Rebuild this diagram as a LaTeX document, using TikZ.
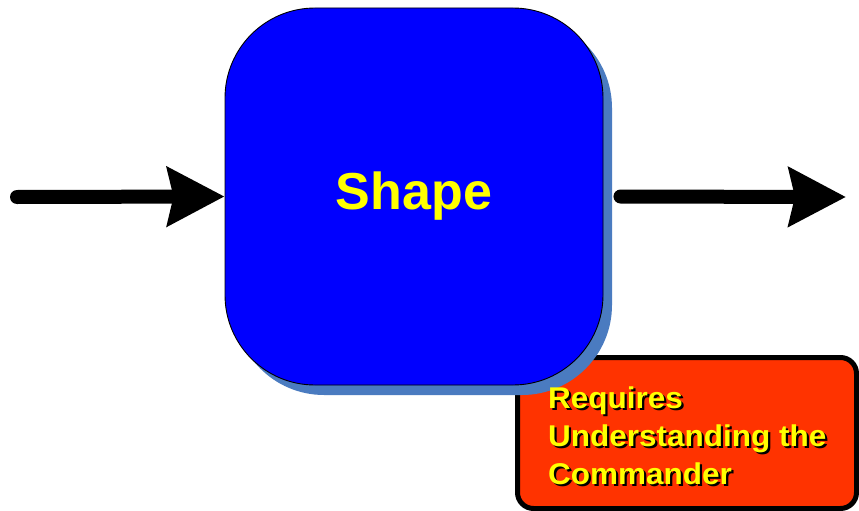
\documentclass[tikz,border=0pt]{standalone}
\usepackage{fontspec}
\setmainfont{Liberation Sans}
\usetikzlibrary{arrows.meta,shadows}

\definecolor{boxblue}{HTML}{0000FF}
\definecolor{shadowblue}{HTML}{4A7BC0}
\definecolor{notered}{HTML}{FF3300}
\definecolor{labelyellow}{HTML}{FFFF00}

% yellow text with a dark drop shadow, set as one box
\newcommand{\shadowedtext}[1]{%
  \scalebox{1.05}[1]{\rlap{\hspace{2pt}\raisebox{-2pt}{\textcolor{black}{#1}}}\textcolor{labelyellow}{#1}}}

\tikzset{
  mainbox/.style={draw=black, line width=0.9pt, fill=boxblue,
    rounded corners=90pt, minimum width=378pt, minimum height=377pt,
    inner sep=0pt,
    drop shadow={shadow xshift=9pt, shadow yshift=-10pt, fill=shadowblue, opacity=1}},
  notebox/.style={draw=black, line width=5pt, fill=notered,
    rounded corners=16pt, minimum width=339pt, minimum height=151pt,
    inner sep=0pt},
  flow/.style={line width=14pt, line cap=round, draw=black,
    -{Stealth[length=57pt, width=58pt, inset=6pt]}},
  bigtext/.style={font=\fontsize{52}{60}\selectfont\bfseries, text=labelyellow},
  notetext/.style={font=\fontsize{30}{38}\selectfont\bfseries, anchor=base west, inner sep=0pt},
}

\begin{document}
\begin{tikzpicture}[x=1pt, y=-1pt]
  \useasboundingbox (0,0) rectangle (859,511);

  % note box, partly covered by the main box
  \node[notebox] (note) at (687,433) {};

  % main box with its shadow
  \node[mainbox] (shape) at (414,196.5) {};
  \node[bigtext] (shapelabel) at (414,196) {Shape};

  % incoming and outgoing flows
  \coordinate (inStart) at (17,197);
  \coordinate (outEnd) at (846,197);
  \draw[flow] (inStart) -- (shape.west);
  \draw[flow, shorten <=17pt] (shape.east) -- (outEnd);

  % note text
  \node[notetext] (l1) at (548,408) {\shadowedtext{Requires}};
  \node[notetext] (l2) at (548,446) {\shadowedtext{Understanding the}};
  \node[notetext] (l3) at (548,484) {\shadowedtext{Commander}};
\end{tikzpicture}
\end{document}
